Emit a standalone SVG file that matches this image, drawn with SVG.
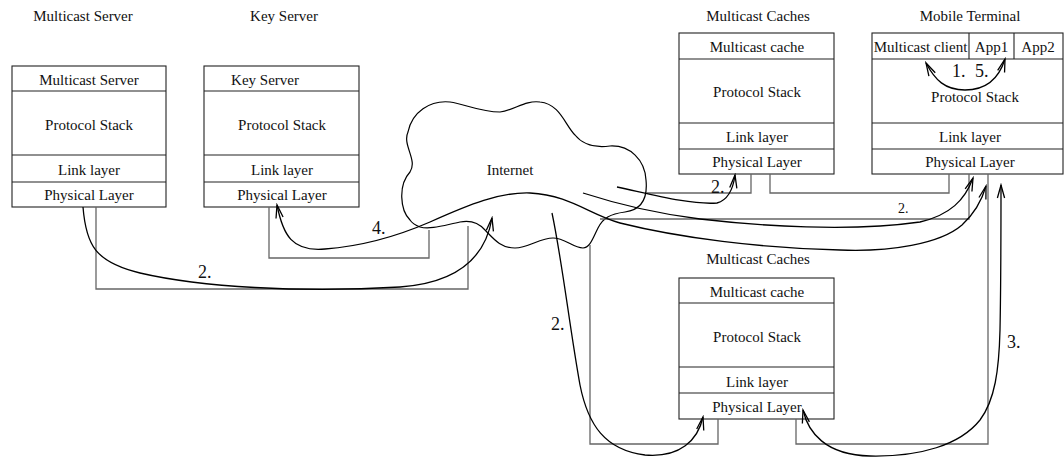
<svg xmlns="http://www.w3.org/2000/svg" width="1064" height="457" viewBox="0 0 1064 457">
  <style>
    .box { fill: #fff; stroke: #222; stroke-width: 1.1; }
    .div { stroke: #222; stroke-width: 1.1; }
    text { font-family: "Liberation Serif", "DejaVu Serif", serif; fill: #111; }
    .lbl { font-size: 15px; text-anchor: middle; }
    .num { font-size: 18px; }
    .wire { fill: none; stroke: #666; stroke-width: 1.3; }
    .flow { fill: none; stroke: #000; stroke-width: 1.3; }
    .cloud { fill: none; stroke: #000; stroke-width: 1.2; }
  </style>
  <defs>
    <marker id="head" viewBox="-14 -6 16 12" markerWidth="16" markerHeight="12" refX="0" refY="0" orient="auto-start-reverse" markerUnits="userSpaceOnUse">
      <path d="M-13,-3.6 L0,0 L-13,3.6" fill="none" stroke="#000" stroke-width="1.3"/>
    </marker>
  </defs>

  <rect width="1064" height="457" fill="#fff"/>

  <!-- Internet cloud -->
  <g id="internet">
    <path class="cloud" d="M410 220 C400 210,398 185,410 172 C418 160,402 145,408 132 C412 112,430 100,450 102 C465 104,480 112,500 112 C515 110,525 100,540 102 C560 104,565 125,575 135 C583 145,595 148,610 146 C630 145,645 160,646 180 C648 200,640 210,625 212 C610 214,603 218,598 228 C593 238,590 248,583 248 C573 248,565 238,553 238 C540 238,528 248,515 248 C500 248,493 238,485 230 C478 222,470 220,460 222 C445 225,430 230,420 227 C415 225,412 223,410 220 Z"/>
    <text class="lbl" x="510" y="175" font-family="Liberation Serif, serif">Internet</text>
  </g>

  <!-- Multicast Server -->
  <g id="multicast-server">
    <text class="lbl" x="83" y="21">Multicast Server</text>
    <rect class="box" x="12" y="66" width="154" height="141"/>
    <line class="div" x1="12" y1="91" x2="166" y2="91"/>
    <line class="div" x1="12" y1="155" x2="166" y2="155"/>
    <line class="div" x1="12" y1="182" x2="166" y2="182"/>
    <text class="lbl" x="89" y="85">Multicast Server</text>
    <text class="lbl" x="89" y="130">Protocol Stack</text>
    <text class="lbl" x="89" y="175">Link layer</text>
    <text class="lbl" x="89" y="200">Physical Layer</text>
  </g>

  <!-- Key Server -->
  <g id="key-server">
    <text class="lbl" x="284" y="21">Key Server</text>
    <rect class="box" x="204" y="66" width="155" height="141"/>
    <line class="div" x1="204" y1="91" x2="359" y2="91"/>
    <line class="div" x1="204" y1="155" x2="359" y2="155"/>
    <line class="div" x1="204" y1="182" x2="359" y2="182"/>
    <text class="lbl" x="265" y="85">Key Server</text>
    <text class="lbl" x="282" y="130">Protocol Stack</text>
    <text class="lbl" x="282" y="175">Link layer</text>
    <text class="lbl" x="282" y="200">Physical Layer</text>
  </g>

  <!-- Multicast Caches (upper) -->
  <g id="cache-upper">
    <text class="lbl" x="758" y="21">Multicast Caches</text>
    <rect class="box" x="679" y="33" width="155" height="141"/>
    <line class="div" x1="679" y1="59" x2="834" y2="59"/>
    <line class="div" x1="679" y1="123" x2="834" y2="123"/>
    <line class="div" x1="679" y1="149" x2="834" y2="149"/>
    <text class="lbl" x="757" y="52">Multicast cache</text>
    <text class="lbl" x="757" y="97">Protocol Stack</text>
    <text class="lbl" x="757" y="142">Link layer</text>
    <text class="lbl" x="757" y="167">Physical Layer</text>
  </g>

  <!-- Mobile Terminal -->
  <g id="mobile-terminal">
    <text class="lbl" x="970" y="21">Mobile Terminal</text>
    <rect class="box" x="872" y="33" width="191" height="141"/>
    <line class="div" x1="872" y1="59" x2="1063" y2="59"/>
    <line class="div" x1="969" y1="33" x2="969" y2="59"/>
    <line class="div" x1="1014" y1="33" x2="1014" y2="59"/>
    <line class="div" x1="872" y1="123" x2="1063" y2="123"/>
    <line class="div" x1="872" y1="149" x2="1063" y2="149"/>
    <text class="lbl" x="920.5" y="52">Multicast client</text>
    <text class="lbl" x="991.5" y="52">App1</text>
    <text class="lbl" x="1038" y="52">App2</text>
    <text class="lbl" x="975" y="102">Protocol Stack</text>
    <text class="lbl" x="970" y="142">Link layer</text>
    <text class="lbl" x="970" y="167">Physical Layer</text>
  </g>

  <!-- Multicast Caches (lower) -->
  <g id="cache-lower">
    <text class="lbl" x="758" y="264">Multicast Caches</text>
    <rect class="box" x="679" y="278" width="155" height="141"/>
    <line class="div" x1="679" y1="303" x2="834" y2="303"/>
    <line class="div" x1="679" y1="367" x2="834" y2="367"/>
    <line class="div" x1="679" y1="393" x2="834" y2="393"/>
    <text class="lbl" x="757" y="297">Multicast cache</text>
    <text class="lbl" x="757" y="342">Protocol Stack</text>
    <text class="lbl" x="757" y="387">Link layer</text>
    <text class="lbl" x="757" y="412">Physical Layer</text>
  </g>

  <!-- Physical links and message flows -->
  <g id="connectors">
    <!-- physical links -->
    <path class="wire" d="M96 207 V289 H468 V226"/>
    <path class="wire" d="M269 207 V258 H429 V230"/>
    <path class="wire" d="M646 193 H751 V174"/>
    <path class="wire" d="M770 174 V193 H949 V174"/>
    <path class="wire" d="M600 219 H969 V174"/>
    <path class="wire" d="M590 245 V444 H718 V419"/>
    <path class="wire" d="M796 419 V444 H988 V174"/>

    <!-- 2. server to Internet -->
    <path class="flow" marker-end="url(#head)" d="M83 207 C86 245,95 262,140 273 C200 287,300 293,400 287 C455 283,485 260,492 218"/>
    <!-- 4. key exchange between terminal and key server -->
    <path class="flow" marker-start="url(#head)" marker-end="url(#head)" d="M277 205 C283 235,292 252,325 249 C365 246,400 235,430 222 C470 204,500 192,530 193 C570 195,590 215,620 223 C680 238,760 248,840 250 C890 252,940 244,962 225 C975 213,982 200,986 186"/>
    <!-- 2. Internet to upper cache -->
    <path class="flow" marker-end="url(#head)" d="M617 187 C650 194,690 205,717 203 C728 200,733 190,735 175"/>
    <!-- 2. Internet to terminal -->
    <path class="flow" marker-end="url(#head)" d="M583 193 C620 205,660 214,700 219 C760 226,850 232,920 222 C950 215,965 200,973 178"/>
    <!-- 2. Internet to lower cache -->
    <path class="flow" marker-end="url(#head)" d="M552 213 C562 260,570 330,580 385 C588 425,605 450,645 455 C680 458,698 440,703 417"/>
    <!-- 3. lower cache to terminal -->
    <path class="flow" marker-start="url(#head)" marker-end="url(#head)" d="M803 410 C808 432,825 455,870 456 C920 457,960 445,980 420 C995 400,999 370,1000 330 C1001 280,1001 230,1001 185"/>
    <!-- 1. / 5. client and application -->
    <path class="flow" marker-start="url(#head)" marker-end="url(#head)" d="M926 63 C935 80,945 90,965 90 C990 90,1000 75,1005 59"/>

    <text class="num" x="198" y="278">2.</text>
    <text class="num" x="372" y="234">4.</text>
    <text class="num" x="711" y="193">2.</text>
    <text class="num" x="898" y="213" style="font-size:14px">2.</text>
    <text class="num" x="551" y="330">2.</text>
    <text class="num" x="1007" y="348">3.</text>
    <text class="num" x="952" y="77">1.</text>
    <text class="num" x="975" y="77">5.</text>
  </g>
</svg>
